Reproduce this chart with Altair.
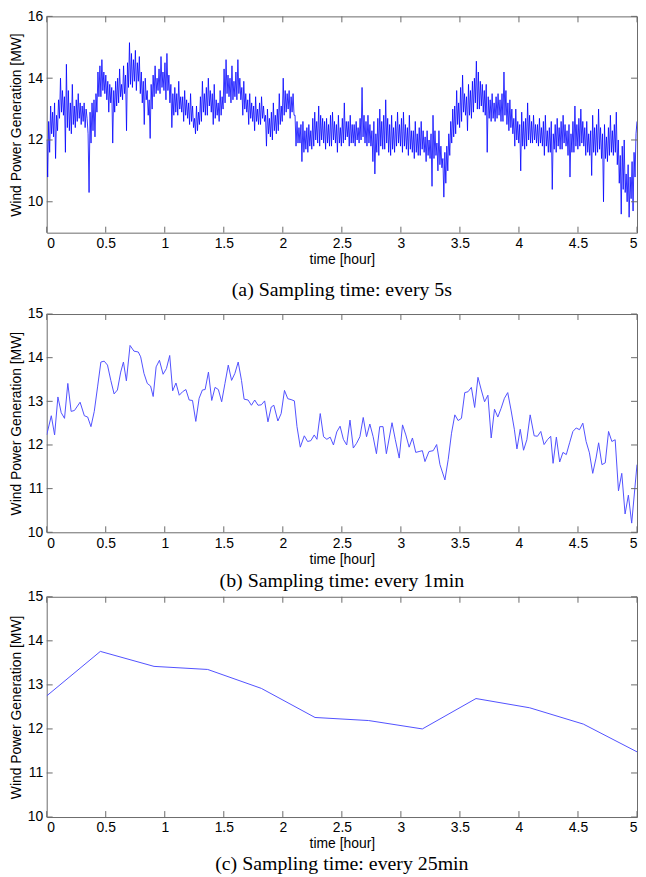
import altair as alt
import numpy as np
import pandas as pd

# ---------------- data ----------------
X_TICKS = [0, 0.5, 1, 1.5, 2, 2.5, 3, 3.5, 4, 4.5, 5]
Y_TICKS_A = [10, 12, 14, 16]
Y_TICKS_BC = [10, 11, 12, 13, 14, 15]

CAPTION_A = "(a) Sampling time: every 5s"
CAPTION_B = "(b) Sampling time: every 1min"
CAPTION_C = "(c) Sampling time: every 25min"

# (a) every 5 s  (dense record, read as successive highs / lows)
power_5s = [
    12.0, 10.8, 12.6, 11.6, 13.1, 12.2, 12.9, 12.1, 13.2, 11.4, 12.8, 12.3,
    13.3, 12.7, 14.0, 12.9, 13.6, 12.8, 13.4, 11.6, 14.45, 12.4, 13.6, 12.3,
    13.2, 12.2, 13.8, 12.5, 13.1, 12.4, 13.3, 12.6, 13.5, 12.7, 13.2, 12.5,
    13.1, 12.6, 13.2, 12.4, 13.0, 12.7, 12.2, 10.3, 12.9, 11.9, 13.2, 12.3,
    13.3, 12.1, 13.5, 12.9, 14.2, 13.4, 14.4, 13.4, 14.6, 13.6, 14.2, 13.5,
    14.1, 13.3, 13.9, 12.9, 13.8, 13.2, 13.7, 11.9, 13.6, 12.9, 13.9, 13.1,
    14.0, 13.2, 14.3, 13.4, 13.8, 13.3, 14.4, 13.5, 14.1, 12.3, 14.5, 13.7,
    15.15, 13.8, 14.8, 13.7, 14.6, 13.9, 14.9, 13.6, 14.5, 13.9, 14.7, 13.5,
    14.2, 13.2, 13.9, 12.5, 14.0, 13.3, 13.6, 12.8, 13.3, 12.05, 13.8, 13.0,
    14.1, 13.4, 14.4, 13.5, 14.0, 13.6, 14.3, 13.5, 14.7, 13.7, 14.2, 13.6,
    14.5, 13.3, 14.8, 13.6, 14.1, 13.2, 13.8, 12.4, 13.5, 12.8, 13.7, 12.9,
    13.5, 12.8, 13.9, 13.0, 13.4, 12.9, 13.4, 12.6, 13.6, 12.8, 13.3, 12.7,
    13.2, 12.5, 13.5, 12.6, 13.1, 12.4, 12.7, 12.2, 13.1, 12.3, 12.9, 12.5,
    13.4, 12.6, 13.9, 12.9, 13.5, 12.8, 13.7, 12.8, 14.0, 13.1, 13.6, 12.9,
    13.5, 12.5, 13.8, 12.7, 13.3, 12.8, 13.2, 12.6, 13.6, 12.8, 13.4, 13.0,
    14.3, 13.2, 14.6, 13.5, 14.1, 13.4, 14.0, 13.2, 14.4, 13.3, 13.9, 13.4,
    14.2, 13.3, 14.6, 13.5, 14.0, 13.3, 13.7, 12.8, 13.9, 13.0, 13.5, 12.9,
    13.3, 12.5, 13.5, 12.7, 13.2, 12.6, 13.1, 12.3, 13.4, 12.6, 13.0, 12.5,
    13.2, 12.5, 13.4, 12.7, 13.1, 12.6, 12.8, 11.8, 13.0, 12.2, 12.7, 12.1,
    12.9, 12.0, 13.2, 12.3, 12.8, 12.2, 13.0, 12.3, 13.5, 12.5, 13.1, 12.6,
    14.0, 12.8, 13.6, 12.9, 13.5, 13.0, 13.6, 12.7, 13.4, 12.9, 13.5, 12.8,
    12.8, 11.8, 12.6, 11.9, 12.4, 11.9, 12.5, 11.3, 12.6, 11.6, 12.3, 11.7,
    12.4, 11.6, 12.5, 11.8, 12.3, 11.7, 12.7, 11.8, 12.9, 12.0, 12.6, 11.9,
    13.1, 11.8, 12.8, 12.0, 12.7, 11.9, 12.6, 11.7, 12.7, 11.9, 12.5, 11.8,
    12.8, 11.8, 12.9, 12.0, 12.6, 11.9, 12.5, 11.6, 12.8, 11.9, 12.4, 11.8,
    12.7, 11.9, 13.2, 12.0, 12.6, 12.1, 12.6, 11.8, 12.8, 11.9, 12.5, 11.9,
    12.5, 11.8, 12.6, 12.0, 12.4, 11.9, 12.7, 12.0, 13.7, 12.1, 12.8, 11.9,
    12.6, 11.8, 12.8, 11.9, 12.5, 11.8, 12.3, 11.3, 12.6, 10.9, 12.2, 11.6,
    12.7, 11.5, 13.0, 11.8, 12.6, 11.7, 12.8, 11.7, 13.3, 11.9, 12.7, 11.6,
    12.5, 11.5, 12.8, 11.7, 12.4, 11.6, 12.6, 11.8, 12.9, 11.9, 12.5, 11.8,
    12.7, 11.6, 12.9, 11.8, 12.5, 11.7, 12.4, 11.5, 12.8, 11.7, 12.3, 11.6,
    12.3, 11.4, 12.6, 11.6, 12.2, 11.5, 12.4, 11.5, 12.6, 11.7, 12.3, 11.6,
    12.1, 11.3, 12.3, 11.5, 12.0, 11.4, 12.2, 10.5, 12.8, 11.4, 12.3, 11.5,
    11.9, 11.0, 12.3, 11.2, 11.8, 11.1, 11.4, 10.15, 11.6, 10.6, 11.8, 11.0,
    12.2, 11.5, 12.6, 11.9, 13.0, 12.1, 13.1, 12.2, 13.6, 12.5, 13.2, 12.4,
    13.7, 12.6, 14.1, 12.9, 13.5, 12.8, 13.4, 12.3, 13.8, 12.8, 13.6, 12.7,
    13.9, 12.9, 14.0, 13.2, 14.55, 13.0, 14.2, 13.0, 13.9, 13.1, 13.8, 12.9,
    13.6, 12.8, 13.8, 11.6, 13.4, 12.7, 13.3, 12.6, 13.5, 12.7, 13.2, 12.6,
    13.4, 12.7, 13.5, 12.8, 13.3, 12.6, 13.5, 12.6, 14.2, 12.8, 13.6, 12.5,
    13.2, 12.3, 13.3, 12.4, 13.0, 12.2, 12.7, 11.8, 13.0, 12.0, 12.6, 11.9,
    12.5, 11.0, 12.9, 11.8, 12.6, 11.7, 12.7, 11.8, 13.2, 12.0, 12.8, 11.9,
    12.6, 11.9, 12.8, 12.0, 12.5, 11.9, 12.5, 11.8, 12.7, 11.9, 12.4, 11.8,
    12.6, 11.5, 12.8, 11.8, 12.3, 11.6, 12.4, 11.6, 12.6, 10.4, 12.2, 11.7,
    12.5, 11.6, 12.7, 11.8, 12.4, 11.7, 12.6, 11.7, 12.8, 11.9, 12.5, 11.8,
    12.3, 11.5, 12.5, 10.8, 12.2, 11.6, 12.6, 11.6, 13.1, 11.8, 12.5, 11.7,
    12.7, 11.8, 13.0, 11.9, 12.6, 11.8, 12.4, 11.5, 12.6, 11.6, 12.2, 11.5,
    12.3, 10.85, 12.8, 11.6, 12.4, 11.5, 12.5, 11.6, 13.0, 11.7, 12.4, 11.4,
    12.2, 10.0, 12.5, 11.4, 12.1, 11.3, 12.4, 11.5, 12.8, 11.6, 12.3, 11.5,
    12.5, 11.6, 12.9, 11.2, 12.0, 10.6, 11.5, 9.6, 11.8, 10.4, 12.0, 10.3,
    10.9, 10.0, 11.2, 9.5, 10.8, 10.1, 11.3, 9.7, 11.6, 10.8, 12.2, 12.6,
]
time_5s = np.linspace(0, 5, len(power_5s))

# (b) every 1 min
time_1min = [
    0.0, 0.039, 0.067, 0.095, 0.123, 0.151, 0.179, 0.207, 0.235, 0.283,
    0.319, 0.347, 0.375, 0.403, 0.431, 0.459, 0.487, 0.515, 0.543, 0.571,
    0.599, 0.627, 0.650, 0.675, 0.706, 0.739, 0.776, 0.796, 0.824, 0.852,
    0.880, 0.902, 0.927, 0.955, 0.986, 1.014, 1.042, 1.067, 1.095, 1.123,
    1.151, 1.179, 1.207, 1.235, 1.263, 1.291, 1.319, 1.342, 1.370, 1.398,
    1.426, 1.454, 1.482, 1.510, 1.538, 1.566, 1.594, 1.622, 1.650, 1.672,
    1.706, 1.734, 1.762, 1.790, 1.818, 1.846, 1.874, 1.902, 1.924, 1.958,
    1.986, 2.014, 2.042, 2.070, 2.098, 2.120, 2.148, 2.182, 2.210, 2.238,
    2.266, 2.289, 2.317, 2.345, 2.373, 2.401, 2.429, 2.457, 2.485, 2.513,
    2.541, 2.569, 2.597, 2.625, 2.653, 2.681, 2.709, 2.737, 2.765, 2.793,
    2.821, 2.849, 2.877, 2.925, 2.953, 2.986, 3.014, 3.042, 3.070, 3.098,
    3.126, 3.154, 3.182, 3.204, 3.238, 3.274, 3.303, 3.331, 3.373, 3.401,
    3.429, 3.457, 3.485, 3.513, 3.541, 3.569, 3.597, 3.625, 3.653, 3.681,
    3.709, 3.737, 3.765, 3.793, 3.821, 3.849, 3.877, 3.905, 3.933, 3.961,
    3.983, 4.011, 4.039, 4.067, 4.095, 4.129, 4.157, 4.185, 4.213, 4.241,
    4.269, 4.289, 4.317, 4.345, 4.373, 4.401, 4.429, 4.457, 4.485, 4.513,
    4.541, 4.569, 4.597, 4.625, 4.653, 4.675, 4.703, 4.731, 4.759, 4.787,
    4.815, 4.843, 4.871, 4.899, 4.927, 4.955, 5.0,
]
power_1min = [
    12.23, 12.67, 12.23, 13.10, 12.74, 12.61, 13.41, 12.77, 12.79, 12.98,
    12.67, 12.64, 12.42, 12.77, 13.33, 13.90, 13.92, 13.83, 13.48, 13.17,
    13.26, 13.67, 13.90, 13.47, 14.28, 14.15, 14.13, 14.02, 13.64, 13.41,
    13.35, 13.11, 13.79, 13.94, 13.62, 13.75, 14.05, 13.24, 13.42, 13.14,
    13.22, 13.27, 13.03, 13.02, 12.54, 13.07, 13.26, 13.27, 13.67, 13.02,
    13.32, 13.27, 12.99, 13.41, 13.83, 13.48, 13.64, 13.90, 13.48, 13.05,
    13.03, 12.91, 13.03, 12.91, 12.92, 13.01, 12.53, 12.87, 12.91, 12.55,
    12.72, 13.25, 13.06, 13.04, 13.01, 12.42, 11.95, 12.21, 12.08, 12.10,
    12.23, 12.13, 12.72, 12.19, 12.13, 12.18, 12.00, 12.30, 12.43, 12.13,
    12.00, 12.57, 11.93, 12.04, 12.19, 12.63, 12.19, 12.48, 12.19, 11.80,
    12.42, 12.42, 11.80, 12.51, 12.12, 11.70, 12.46, 12.23, 11.95, 12.16,
    11.83, 11.85, 11.87, 11.62, 11.85, 11.87, 12.01, 11.55, 11.20, 11.67,
    12.27, 12.69, 12.56, 12.61, 13.20, 13.22, 13.32, 12.86, 13.55, 13.26,
    12.99, 13.14, 12.16, 12.82, 12.64, 12.84, 13.07, 13.20, 12.80, 12.36,
    11.91, 12.36, 11.88, 12.12, 12.69, 12.21, 12.20, 12.31, 12.01, 12.12,
    12.20, 11.58, 12.18, 11.61, 11.83, 11.78, 12.05, 12.31, 12.39, 12.35,
    12.50, 12.08, 11.82, 11.35, 11.70, 12.05, 11.55, 11.59, 12.31, 12.08,
    12.12, 10.95, 11.35, 10.42, 10.85, 10.21, 11.55,
]

# (c) every 25 min
power_25min = [12.75, 13.76, 13.42, 13.35, 12.92, 12.26, 12.19, 12.00,
               12.69, 12.48, 12.11, 11.48]
time_25min = np.linspace(0, 5, len(power_25min))

# ---------------- styling ----------------
FRAME = "#6a6a6a"
SANS = "Liberation Sans"
SERIF = "Liberation Serif"
W = 595
TL = 6  # inward tick length


def panel(t, p, ydom, yticks, h, caption, cap_offset, color, sw, op, extra=0):
    xs = alt.Scale(domain=[0, 5], nice=False, zero=False)
    ys = alt.Scale(domain=ydom, nice=False, zero=False)
    x_axis = alt.Axis(values=X_TICKS, format="~g", title="time [hour]",
                      labelPadding=4, titlePadding=2)
    y_axis = alt.Axis(values=yticks, format="~g",
                      title="Wind Power Generation [MW]",
                      labelPadding=4, titlePadding=4)
    df = pd.DataFrame({"t": t, "p": p})
    line = alt.Chart(df).mark_line(
        color=color, strokeWidth=sw, opacity=op, clip=True
    ).encode(
        x=alt.X("t:Q", scale=xs, axis=x_axis),
        y=alt.Y("p:Q", scale=ys, axis=y_axis),
    )
    xt = pd.DataFrame({"t": X_TICKS})
    yt = pd.DataFrame({"p": yticks})
    rule = dict(color=FRAME, strokeWidth=1)
    top = alt.Chart(xt).mark_rule(**rule).encode(
        x=alt.X("t:Q", scale=xs, axis=x_axis), y=alt.value(0), y2=alt.value(TL))
    bot = alt.Chart(xt).mark_rule(**rule).encode(
        x=alt.X("t:Q", scale=xs, axis=x_axis), y=alt.value(h), y2=alt.value(h - TL))
    left = alt.Chart(yt).mark_rule(**rule).encode(
        y=alt.Y("p:Q", scale=ys, axis=y_axis), x=alt.value(0), x2=alt.value(TL))
    right = alt.Chart(yt).mark_rule(**rule).encode(
        y=alt.Y("p:Q", scale=ys, axis=y_axis), x=alt.value(W), x2=alt.value(W - TL))
    tp = dict(text=caption, orient="bottom", offset=cap_offset, font=SERIF,
              fontSize=20, fontWeight="normal", color="black",
              frame="group", anchor="middle")
    if extra:
        tp.update(subtitle=" ", subtitleFontSize=1, subtitlePadding=extra)
    return alt.layer(line, top, bot, left, right).properties(
        width=W, height=h, title=alt.TitleParams(**tp))


pa = panel(time_5s, power_5s, [9, 16], Y_TICKS_A, 218, CAPTION_A, 14,
           "#0000ff", 0.8, 1.0, extra=7)
pb = panel(time_1min, power_1min, [10, 15], Y_TICKS_BC, 220, CAPTION_B, 5,
           "#5050ff", 1.0, 1.0)
pc = panel(time_25min, power_25min, [10, 15], Y_TICKS_BC, 222, CAPTION_C, 3,
           "#5050ff", 1.0, 1.0)

chart = alt.vconcat(pa, pb, pc, spacing=-3).properties(
    padding={"left": 0, "top": -3, "right": 0, "bottom": 0},
    background="white",
).configure_view(
    stroke=FRAME, strokeWidth=1
).configure_axis(
    labelFont=SANS, labelFontSize=14, labelColor="black",
    titleFont=SANS, titleFontSize=14, titleFontWeight="normal", titleColor="black",
    grid=False, domain=False, ticks=False, tickSize=0,
)

chart.save("out.html", embed_options={"renderer": "svg", "actions": False})
